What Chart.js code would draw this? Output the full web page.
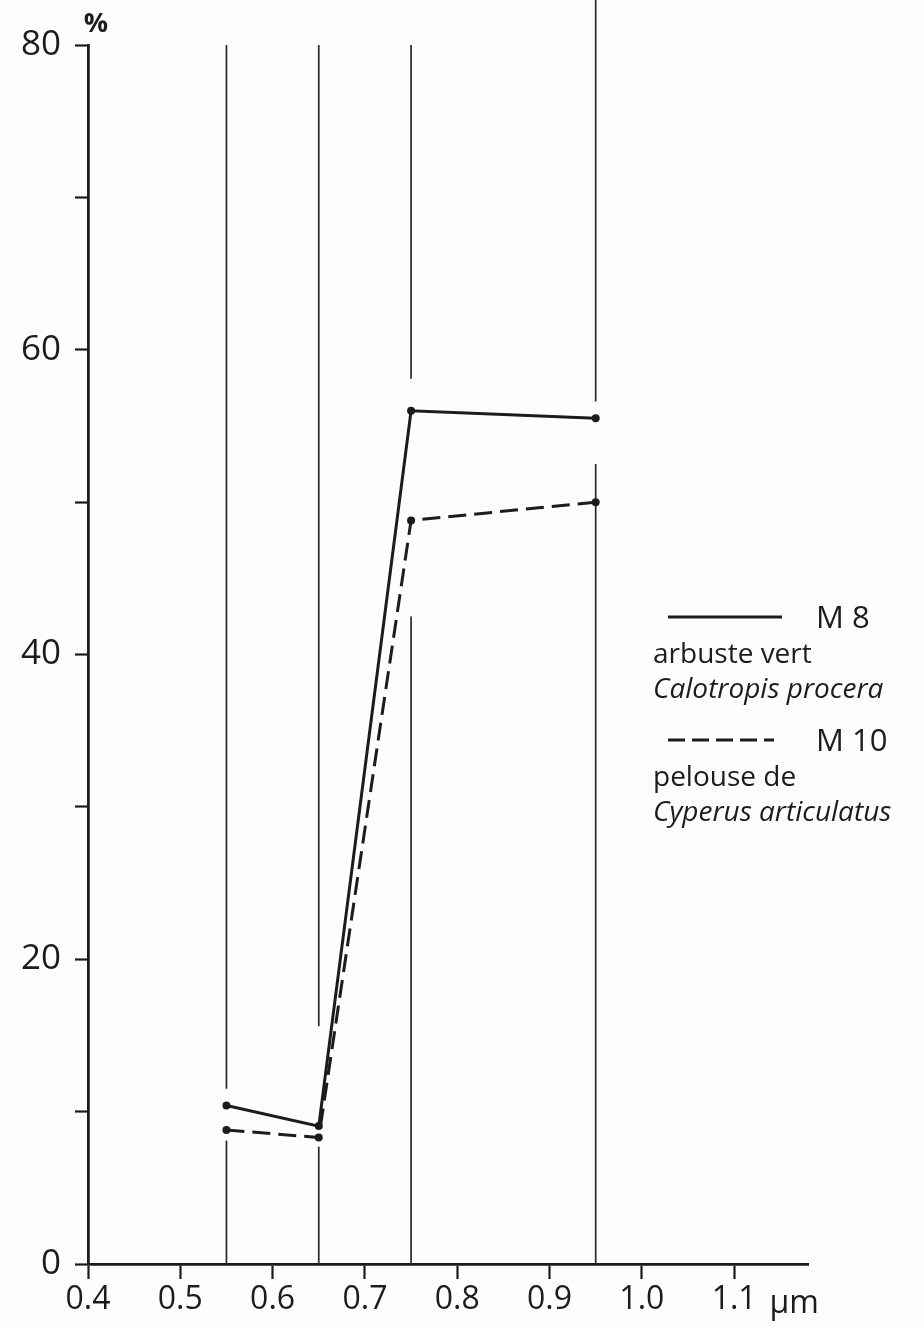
<!DOCTYPE html>
<html>
<head>
<meta charset="utf-8">
<script src="https://cdn.jsdelivr.net/npm/chart.js@4/dist/chart.umd.min.js"></script>
<style>
  html, body { margin: 0; padding: 0; background: #fdfdfc; }
  #reflect-chart { display: block; }
</style>
</head>
<body>
<canvas id="reflect-chart" width="924" height="1329"></canvas>
<script>
// band centres (µm) and where each vertical band line is interrupted (%)
const bandCenters = [0.55, 0.65, 0.75, 0.95];
const bandGapBottom = [8.1, 7.7, 42.5, 52.5];
const bandGapTop = [11.5, 15.6, 58.1, 56.6];
const bandTop = [80, 80, 80, 83];

// reflectance (%) at each band centre
const m8Values = [10.4, 9.05, 56.0, 55.5];
const m10Values = [8.8, 8.3, 48.8, 50.0];

const xTicks = [0.4, 0.5, 0.6, 0.7, 0.8, 0.9, 1.0, 1.1];
const yTicks = [0, 10, 20, 30, 40, 50, 60, 70, 80];
const yLabelled = [0, 20, 40, 60, 80];

const legendLabels = [
    { name: 'M 8', lines: ['arbuste vert', 'Calotropis procera'], dash: [] },
    { name: 'M 10', lines: ['pelouse de', 'Cyperus articulatus'], dash: [17, 7] }
];

const INK = '#1c1c1c';
const FONT = '"Open Sans", "DejaVu Sans", sans-serif';

const bandSets = bandCenters.map(function(c, i) {
    return {
        data: [
            { x: c, y: 0 }, { x: c, y: bandGapBottom[i] },
            { x: c, y: null },
            { x: c, y: bandGapTop[i] }, { x: c, y: bandTop[i] }
        ],
        borderColor: '#2a2a2a',
        borderWidth: 1.7,
        pointRadius: 0,
        spanGaps: false,
        clip: false,
        order: 3
    };
});

function seriesData(values) {
    return values.map(function(v, i) { return { x: bandCenters[i], y: v }; });
}

const decorPlugin = {
    id: 'decor',
    afterDraw(chart) {
        const ctx = chart.ctx;
        const area = chart.chartArea;
        const xs = chart.scales.x;
        ctx.save();
        ctx.fillStyle = INK;
        ctx.strokeStyle = INK;

        // unit labels
        ctx.font = 'bold 27px ' + FONT;
        ctx.textAlign = 'center';
        ctx.textBaseline = 'alphabetic';
        ctx.fillText('%', area.left + 8, area.top - 13);
        ctx.font = '500 32px ' + FONT;
        ctx.fillText('µm', xs.getPixelForValue(1.165), area.bottom + 49);

        // legend
        const lx = 668, tx = 653;
        let y = 617;
        legendLabels.forEach(function(item, k) {
            ctx.lineWidth = 2.8;
            ctx.setLineDash(item.dash);
            ctx.beginPath();
            ctx.moveTo(lx, y);
            ctx.lineTo(lx + (k === 0 ? 114 : 106), y);
            ctx.stroke();
            ctx.setLineDash([]);
            ctx.textAlign = 'left';
            ctx.font = '500 31px ' + FONT;
            ctx.fillText(item.name, 816, y + 11);
            ctx.font = '500 28px ' + FONT;
            ctx.fillText(item.lines[0], tx, y + 46);
            ctx.font = 'italic 500 28px ' + FONT;
            ctx.fillText(item.lines[1], tx, y + 81);
            y += 123;
        });
        ctx.restore();
    }
};

new Chart(document.getElementById('reflect-chart'), {
    type: 'line',
    data: {
        datasets: bandSets.concat([
            {
                label: 'M 8',
                data: seriesData(m8Values),
                borderColor: INK,
                backgroundColor: INK,
                borderWidth: 3,
                pointRadius: 4,
                pointBackgroundColor: INK,
                pointBorderWidth: 0,
                tension: 0,
                order: 1
            },
            {
                label: 'M 10',
                data: seriesData(m10Values),
                borderColor: INK,
                backgroundColor: INK,
                borderWidth: 3,
                borderDash: [18, 8],
                pointRadius: 4,
                pointBackgroundColor: INK,
                pointBorderWidth: 0,
                tension: 0,
                order: 2
            }
        ])
    },
    options: {
        responsive: false,
        animation: false,
        layout: { padding: { top: 45, right: 116, left: 0, bottom: 0 } },
        plugins: {
            legend: { display: false },
            tooltip: { enabled: false }
        },
        scales: {
            x: {
                type: 'linear',
                min: 0.4,
                max: 1.18,
                afterBuildTicks: function(scale) {
                    scale.ticks = xTicks.map(function(v) { return { value: v }; });
                },
                afterFit: function(scale) { scale.height = 65; },
                border: { display: true, color: INK, width: 2.8 },
                grid: {
                    drawOnChartArea: false,
                    drawTicks: true,
                    tickLength: 15,
                    tickWidth: 2.2,
                    tickColor: INK
                },
                ticks: {
                    autoSkip: false,
                    maxRotation: 0,
                    padding: 2,
                    color: INK,
                    font: { family: FONT, size: 32, weight: '500' },
                    callback: function(v) { return Number(v).toFixed(1); }
                }
            },
            y: {
                min: 0,
                max: 80,
                afterBuildTicks: function(scale) {
                    scale.ticks = yTicks.map(function(v) { return { value: v }; });
                },
                afterFit: function(scale) { scale.width = 88; },
                border: { display: true, color: INK, width: 2.8 },
                grid: {
                    drawOnChartArea: false,
                    drawTicks: true,
                    tickLength: 13,
                    tickWidth: 2.2,
                    tickColor: INK
                },
                ticks: {
                    padding: 14,
                    color: INK,
                    font: { family: FONT, size: 35, weight: '500' },
                    callback: function(v) { return yLabelled.indexOf(v) >= 0 ? v : ''; }
                }
            }
        }
    },
    plugins: [decorPlugin]
});
</script>
</body>
</html>
